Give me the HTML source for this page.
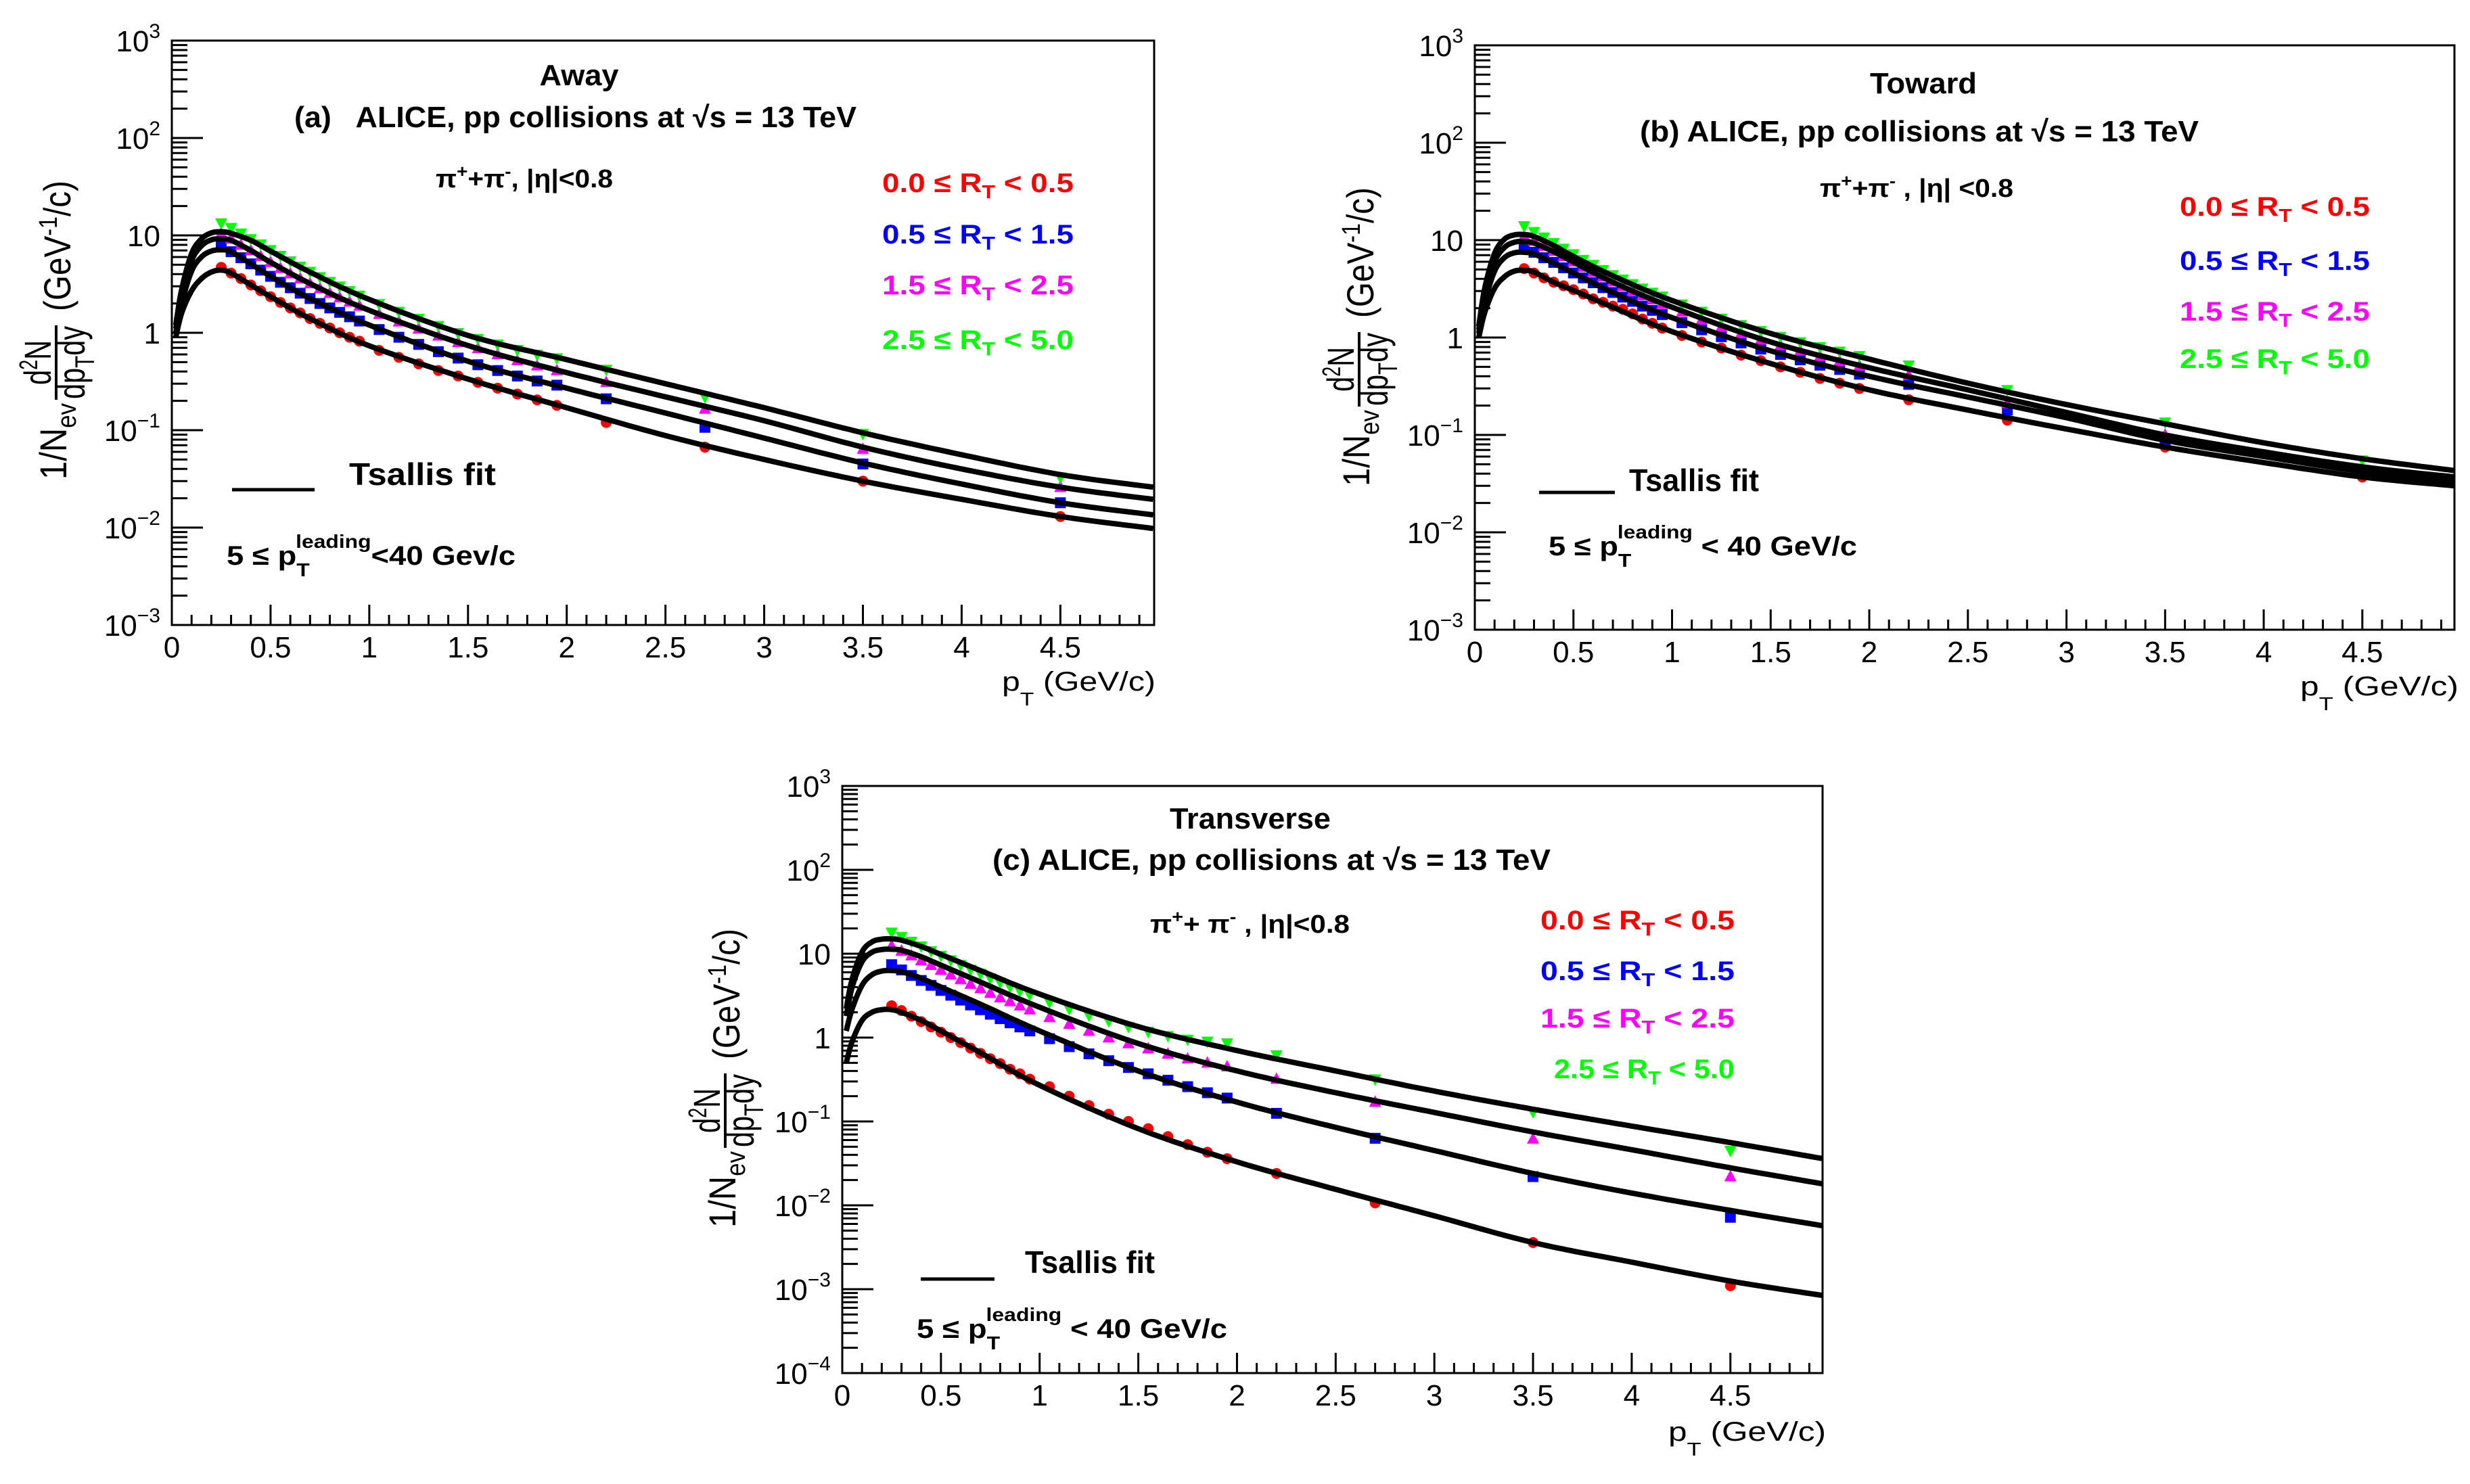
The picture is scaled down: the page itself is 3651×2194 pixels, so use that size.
<!DOCTYPE html>
<html><head><meta charset="utf-8"><title>Pion pT spectra vs R_T</title>
<style>html,body{margin:0;padding:0;background:#fff;overflow:hidden}svg{display:block;font-family:"Liberation Sans",sans-serif}</style></head>
<body>
<svg id="fig" width="3651" height="2194" viewBox="0 0 3651 2194">
<rect width="3651" height="2194" fill="#fff"/>

<!-- Panel a static text -->
<g font-weight="bold">
<text x="856" y="126" text-anchor="middle" font-size="44" textLength="117" lengthAdjust="spacingAndGlyphs">Away</text>
<text x="435" y="188" font-size="44" textLength="831" lengthAdjust="spacingAndGlyphs" xml:space="preserve">(a)   ALICE, pp collisions at √s = 13 TeV</text>
<text x="644" y="277" font-size="38" textLength="262" lengthAdjust="spacingAndGlyphs">π<tspan dy="-15" font-size="26">+</tspan><tspan dy="15">+π</tspan><tspan dy="-15" font-size="26">-</tspan><tspan dy="15">, |η|&lt;0.8</tspan></text>
<text x="1304" y="284" font-size="40" fill="#ff0000" textLength="283" lengthAdjust="spacingAndGlyphs">0.0 ≤ R<tspan dy="9" font-size="28">T</tspan><tspan dy="-9"> &lt; 0.5</tspan></text>
<text x="1304" y="360" font-size="40" fill="#0000ff" textLength="283" lengthAdjust="spacingAndGlyphs">0.5 ≤ R<tspan dy="9" font-size="28">T</tspan><tspan dy="-9"> &lt; 1.5</tspan></text>
<text x="1304" y="435" font-size="40" fill="#ff00ff" textLength="283" lengthAdjust="spacingAndGlyphs">1.5 ≤ R<tspan dy="9" font-size="28">T</tspan><tspan dy="-9"> &lt; 2.5</tspan></text>
<text x="1304" y="516" font-size="40" fill="#00ff00" textLength="283" lengthAdjust="spacingAndGlyphs">2.5 ≤ R<tspan dy="9" font-size="28">T</tspan><tspan dy="-9"> &lt; 5.0</tspan></text>
<line x1="343" y1="724" x2="465" y2="724" stroke="#000" stroke-width="5"/>
<text x="516" y="717" font-size="46" textLength="217" lengthAdjust="spacingAndGlyphs">Tsallis fit</text>
<text x="335" y="835" font-size="40" textLength="427" lengthAdjust="spacingAndGlyphs">5 ≤ p<tspan dy="17" font-size="28">T</tspan><tspan dx="-18" dy="-42" font-size="28">leading</tspan><tspan dy="25" font-size="40">&lt;40 Gev/c</tspan></text>
</g>
<text x="1481" y="1021" font-size="40" textLength="227" lengthAdjust="spacingAndGlyphs">p<tspan dy="22" font-size="28">T</tspan><tspan dy="-22"> (GeV/c)</tspan></text>
<g transform="translate(98,709) rotate(-90)">
<text x="0" y="0" font-size="56" textLength="113" lengthAdjust="spacingAndGlyphs">1/N<tspan dy="14" font-size="40">ev</tspan></text>
<text x="173" y="-23" text-anchor="middle" font-size="56" textLength="66" lengthAdjust="spacingAndGlyphs">d<tspan dy="-20" font-size="38">2</tspan><tspan dy="20">N</tspan></text>
<line x1="118" y1="-15" x2="228" y2="-15" stroke="#000" stroke-width="4"/>
<text x="173" y="27" text-anchor="middle" font-size="56" textLength="108" lengthAdjust="spacingAndGlyphs">dp<tspan dy="14" font-size="40">T</tspan><tspan dy="-14">dy</tspan></text>
<text x="249" y="6" font-size="56" textLength="193" lengthAdjust="spacingAndGlyphs">(GeV<tspan dy="-20" font-size="38">-1</tspan><tspan dy="20">/c)</tspan></text>
</g>

<!-- Panel b static text -->
<g font-weight="bold">
<text x="2843" y="138" text-anchor="middle" font-size="44" textLength="158" lengthAdjust="spacingAndGlyphs">Toward</text>
<text x="2424" y="209" font-size="44" textLength="826" lengthAdjust="spacingAndGlyphs">(b) ALICE, pp collisions at  √s = 13 TeV</text>
<text x="2690" y="291" font-size="38" textLength="286" lengthAdjust="spacingAndGlyphs">π<tspan dy="-15" font-size="26">+</tspan><tspan dy="15">+π</tspan><tspan dy="-15" font-size="26">-</tspan><tspan dy="15"> , |η| &lt;0.8</tspan></text>
<text x="3222" y="319" font-size="40" fill="#ff0000" textLength="281" lengthAdjust="spacingAndGlyphs">0.0 ≤ R<tspan dy="9" font-size="28">T</tspan><tspan dy="-9"> &lt; 0.5</tspan></text>
<text x="3222" y="399" font-size="40" fill="#0000ff" textLength="281" lengthAdjust="spacingAndGlyphs">0.5 ≤ R<tspan dy="9" font-size="28">T</tspan><tspan dy="-9"> &lt; 1.5</tspan></text>
<text x="3222" y="474" font-size="40" fill="#ff00ff" textLength="281" lengthAdjust="spacingAndGlyphs">1.5 ≤ R<tspan dy="9" font-size="28">T</tspan><tspan dy="-9"> &lt; 2.5</tspan></text>
<text x="3222" y="544" font-size="40" fill="#00ff00" textLength="281" lengthAdjust="spacingAndGlyphs">2.5 ≤ R<tspan dy="9" font-size="28">T</tspan><tspan dy="-9"> &lt; 5.0</tspan></text>
<line x1="2275" y1="728" x2="2387" y2="728" stroke="#000" stroke-width="5"/>
<text x="2408" y="726" font-size="46" textLength="192" lengthAdjust="spacingAndGlyphs">Tsallis fit</text>
<text x="2289" y="821" font-size="40" textLength="456" lengthAdjust="spacingAndGlyphs">5 ≤ p<tspan dy="17" font-size="28">T</tspan><tspan dx="-18" dy="-42" font-size="28">leading</tspan><tspan dy="25" font-size="40"> &lt; 40 GeV/c</tspan></text>
</g>
<text x="3400" y="1028" font-size="40" textLength="234" lengthAdjust="spacingAndGlyphs">p<tspan dy="22" font-size="28">T</tspan><tspan dy="-22"> (GeV/c)</tspan></text>
<g transform="translate(2024,719) rotate(-90)">
<text x="0" y="0" font-size="56" textLength="113" lengthAdjust="spacingAndGlyphs">1/N<tspan dy="14" font-size="40">ev</tspan></text>
<text x="173" y="-23" text-anchor="middle" font-size="56" textLength="66" lengthAdjust="spacingAndGlyphs">d<tspan dy="-20" font-size="38">2</tspan><tspan dy="20">N</tspan></text>
<line x1="118" y1="-15" x2="228" y2="-15" stroke="#000" stroke-width="4"/>
<text x="173" y="27" text-anchor="middle" font-size="56" textLength="108" lengthAdjust="spacingAndGlyphs">dp<tspan dy="14" font-size="40">T</tspan><tspan dy="-14">dy</tspan></text>
<text x="249" y="6" font-size="56" textLength="193" lengthAdjust="spacingAndGlyphs">(GeV<tspan dy="-20" font-size="38">-1</tspan><tspan dy="20">/c)</tspan></text>
</g>

<!-- Panel c static text -->
<g font-weight="bold">
<text x="1848" y="1225" text-anchor="middle" font-size="44" textLength="238" lengthAdjust="spacingAndGlyphs">Transverse</text>
<text x="1467" y="1286" font-size="44" textLength="825" lengthAdjust="spacingAndGlyphs">(c) ALICE, pp collisions at  √s = 13 TeV</text>
<text x="1700" y="1379" font-size="38" textLength="295" lengthAdjust="spacingAndGlyphs">π<tspan dy="-15" font-size="26">+</tspan><tspan dy="15">+ π</tspan><tspan dy="-15" font-size="26">-</tspan><tspan dy="15"> , |η|&lt;0.8</tspan></text>
<text x="2277" y="1374" font-size="40" fill="#ff0000" textLength="287" lengthAdjust="spacingAndGlyphs">0.0 ≤ R<tspan dy="9" font-size="28">T</tspan><tspan dy="-9"> &lt; 0.5</tspan></text>
<text x="2277" y="1449" font-size="40" fill="#0000ff" textLength="287" lengthAdjust="spacingAndGlyphs">0.5 ≤ R<tspan dy="9" font-size="28">T</tspan><tspan dy="-9"> &lt; 1.5</tspan></text>
<text x="2277" y="1519" font-size="40" fill="#ff00ff" textLength="287" lengthAdjust="spacingAndGlyphs">1.5 ≤ R<tspan dy="9" font-size="28">T</tspan><tspan dy="-9"> &lt; 2.5</tspan></text>
<text x="2297" y="1594" font-size="40" fill="#00ff00" textLength="267" lengthAdjust="spacingAndGlyphs">2.5 ≤ R<tspan dy="9" font-size="28">T</tspan><tspan dy="-9"> &lt; 5.0</tspan></text>
<line x1="1361" y1="1891" x2="1470" y2="1891" stroke="#000" stroke-width="5"/>
<text x="1515" y="1882" font-size="46" textLength="192" lengthAdjust="spacingAndGlyphs">Tsallis fit</text>
<text x="1355" y="1978" font-size="40" textLength="459" lengthAdjust="spacingAndGlyphs">5 ≤ p<tspan dy="17" font-size="28">T</tspan><tspan dx="-18" dy="-42" font-size="28">leading</tspan><tspan dy="25" font-size="40"> &lt; 40 GeV/c</tspan></text>
</g>
<text x="2466" y="2130" font-size="40" textLength="233" lengthAdjust="spacingAndGlyphs">p<tspan dy="22" font-size="28">T</tspan><tspan dy="-22"> (GeV/c)</tspan></text>
<g transform="translate(1087,1815) rotate(-90)">
<text x="0" y="0" font-size="56" textLength="113" lengthAdjust="spacingAndGlyphs">1/N<tspan dy="14" font-size="40">ev</tspan></text>
<text x="173" y="-23" text-anchor="middle" font-size="56" textLength="66" lengthAdjust="spacingAndGlyphs">d<tspan dy="-20" font-size="38">2</tspan><tspan dy="20">N</tspan></text>
<line x1="118" y1="-15" x2="228" y2="-15" stroke="#000" stroke-width="4"/>
<text x="173" y="27" text-anchor="middle" font-size="56" textLength="108" lengthAdjust="spacingAndGlyphs">dp<tspan dy="14" font-size="40">T</tspan><tspan dy="-14">dy</tspan></text>
<text x="249" y="6" font-size="56" textLength="193" lengthAdjust="spacingAndGlyphs">(GeV<tspan dy="-20" font-size="38">-1</tspan><tspan dy="20">/c)</tspan></text>
</g>
</svg>

<script>
// ---- data ----
const PT = [0.25,0.3,0.35,0.4,0.45,0.5,0.55,0.6,0.65,0.7,0.75,0.8,0.85,0.9,0.95,1.05,1.15,1.25,1.35,1.45,1.55,1.65,1.75,1.85,1.95,2.2,2.7,3.5,4.5];
const KNOTS = [0.02,0.05,0.1,0.15,0.2,0.25,0.3,0.4,0.5,0.7,1.0,1.5,2.0,2.5,3.0,3.5,4.0,4.5,4.97];
const X_TICK_VALUES = [0,0.5,1,1.5,2,2.5,3,3.5,4,4.5];
const X_TICK_LABELS = ["0","0.5","1","1.5","2","2.5","3","3.5","4","4.5"];
const Y_EXP_AB = [-3,-2,-1,0,1,2,3];
const Y_EXP_C = [-4,-3,-2,-1,0,1,2,3];

// panel a (Away)
const aRed   = [4.7,4.1,3.6,3.1,2.7,2.35,2.05,1.8,1.6,1.4,1.25,1.12,1.0,0.9,0.82,0.66,0.56,0.48,0.41,0.36,0.31,0.27,0.235,0.205,0.18,0.12,0.067,0.030,0.013];
const aBlue  = [7.9,6.8,5.9,5.1,4.4,3.8,3.3,2.9,2.55,2.25,2.0,1.8,1.62,1.46,1.32,1.08,0.9,0.76,0.64,0.55,0.47,0.41,0.36,0.32,0.29,0.21,0.107,0.045,0.018];
const aMag   = [10.5,9.2,8.0,7.0,6.1,5.3,4.6,4.05,3.6,3.2,2.85,2.55,2.3,2.08,1.88,1.55,1.3,1.1,0.93,0.8,0.69,0.6,0.52,0.46,0.41,0.31,0.165,0.064,0.026];
const aGreen = [13.4,12,10.5,9.2,8.1,7.1,6.2,5.45,4.8,4.25,3.75,3.35,3.0,2.7,2.42,1.98,1.65,1.4,1.18,1.0,0.87,0.76,0.67,0.6,0.55,0.42,0.22,0.092,0.033];
const aRedFit   = [0.9,1.6,2.7,3.6,4.2,4.4,4.1,3.1,2.35,1.4,0.735,0.335,0.17,0.088,0.05,0.030,0.0195,0.013,0.0098];
const aBlueFit  = [1.0,2.0,4.3,6.0,6.9,7.1,6.8,5.1,3.8,2.25,1.2,0.51,0.27,0.15,0.083,0.046,0.028,0.018,0.0135];
const aMagFit   = [1.1,2.4,5.5,7.8,9.0,9.2,8.9,7.0,5.3,3.2,1.7,0.74,0.39,0.22,0.125,0.067,0.04,0.026,0.0195];
const aGreenFit = [1.2,2.8,6.5,9.2,10.6,10.9,10.5,8.9,6.9,4.2,2.2,0.94,0.53,0.3,0.17,0.094,0.056,0.035,0.026];

// panel b (Toward)
const bRed   = [5.1,4.6,4.1,3.7,3.4,3.1,2.8,2.5,2.3,2.1,1.95,1.75,1.55,1.4,1.25,1.05,0.9,0.78,0.66,0.58,0.5,0.44,0.38,0.34,0.30,0.23,0.142,0.075,0.037];
const bBlue  = [8.5,7.5,6.6,5.9,5.2,4.6,4.1,3.65,3.25,2.9,2.6,2.35,2.1,1.9,1.72,1.42,1.2,1.02,0.88,0.76,0.67,0.59,0.52,0.47,0.42,0.33,0.18,0.086,0.041];
const bMag   = [11,9.8,8.7,7.7,6.8,6.0,5.3,4.7,4.2,3.75,3.35,3.0,2.7,2.45,2.2,1.82,1.52,1.28,1.1,0.95,0.83,0.73,0.64,0.57,0.51,0.41,0.21,0.1,0.046];
const bGreen = [14,12.2,10.7,9.4,8.2,7.2,6.3,5.6,4.95,4.4,3.95,3.55,3.2,2.9,2.65,2.2,1.85,1.57,1.35,1.17,1.02,0.9,0.8,0.72,0.65,0.52,0.29,0.135,0.055];
const bRedFit   = [1.0,1.8,3.2,4.2,4.8,4.9,4.7,3.7,3.05,2.05,1.15,0.54,0.29,0.18,0.115,0.075,0.052,0.037,0.030];
const bBlueFit  = [1.1,2.3,4.8,6.6,7.4,7.5,7.2,5.8,4.6,2.9,1.6,0.73,0.4,0.245,0.15,0.088,0.06,0.042,0.033];
const bMagFit   = [1.2,2.8,6.0,8.4,9.5,9.7,9.3,7.6,5.95,3.7,2.05,0.9,0.49,0.29,0.17,0.1,0.067,0.047,0.037];
const bGreenFit = [1.3,3.2,7.3,10.2,11.3,11.4,10.9,8.8,6.8,4.3,2.4,1.1,0.6,0.34,0.205,0.13,0.083,0.057,0.043];

// panel c (Transverse)
const cRed   = [2.4,2.1,1.8,1.55,1.34,1.16,1.0,0.87,0.75,0.65,0.56,0.49,0.42,0.37,0.32,0.26,0.2,0.155,0.122,0.1,0.082,0.066,0.053,0.043,0.036,0.024,0.0107,0.0036,0.0011];
const cBlue  = [7.4,6.4,5.5,4.8,4.2,3.65,3.2,2.8,2.45,2.15,1.9,1.68,1.5,1.34,1.2,0.97,0.78,0.64,0.53,0.44,0.37,0.31,0.26,0.22,0.19,0.125,0.063,0.022,0.0072];
const cMag   = [12.4,10.8,9.5,8.3,7.3,6.4,5.6,4.95,4.35,3.85,3.4,3.0,2.7,2.4,2.15,1.75,1.45,1.2,1.0,0.85,0.74,0.64,0.56,0.5,0.45,0.32,0.17,0.062,0.022];
const cGreen = [18,16,14,12.3,10.8,9.5,8.4,7.4,6.5,5.8,5.1,4.55,4.05,3.6,3.25,2.65,2.2,1.85,1.58,1.35,1.18,1.05,0.95,0.9,0.86,0.62,0.32,0.13,0.045];
const cRedFit   = [0.5,0.9,1.6,2.0,2.15,2.15,2.0,1.6,1.2,0.66,0.27,0.082,0.033,0.0155,0.0075,0.0036,0.0021,0.00125,0.00084];
const cBlueFit  = [1.2,2.2,4.2,5.6,6.2,6.3,6.1,5.1,4.0,2.5,1.2,0.4,0.17,0.085,0.045,0.024,0.014,0.0087,0.0057];
const cMagFit   = [1.8,4.0,8.0,10.4,11.2,11.3,11.0,9.2,7.3,4.6,2.3,0.85,0.4,0.22,0.128,0.075,0.046,0.028,0.018];
const cGreenFit = [2.2,5.0,10.5,13.8,14.9,15,14.5,12.2,9.8,6.3,3.3,1.35,0.7,0.4,0.23,0.14,0.088,0.056,0.036];

// ---- drawing ----
const NS = 'http://www.w3.org/2000/svg';
const svg = document.getElementById('fig');
function mk(tag, attrs, parent){ const el = document.createElementNS(NS, tag); for (const k in attrs) el.setAttribute(k, attrs[k]); parent.appendChild(el); return el; }

const panels = [
 {id:'a', L:254, R:1706, T:60,  B:924, xmax:4.975, ymin:-3, ymax:3, exps:Y_EXP_AB,
  series:[[aRed,aRedFit,'#ff0000','circle'],[aBlue,aBlueFit,'#0000ff','square'],[aMag,aMagFit,'#ff00ff','tri-up'],[aGreen,aGreenFit,'#00ff00','tri-down']]},
 {id:'b', L:2180, R:3628, T:67, B:931, xmax:4.967, ymin:-3, ymax:3, exps:Y_EXP_AB,
  series:[[bRed,bRedFit,'#ff0000','circle'],[bBlue,bBlueFit,'#0000ff','square'],[bMag,bMagFit,'#ff00ff','tri-up'],[bGreen,bGreenFit,'#00ff00','tri-down']]},
 {id:'c', L:1245, R:2694, T:1162, B:2030, xmax:4.967, ymin:-4, ymax:3, exps:Y_EXP_C,
  series:[[cRed,cRedFit,'#ff0000','circle'],[cBlue,cBlueFit,'#0000ff','square'],[cMag,cMagFit,'#ff00ff','tri-up'],[cGreen,cGreenFit,'#00ff00','tri-down']]}
];
const seriesNames = ['rt-0-0.5','rt-0.5-1.5','rt-1.5-2.5','rt-2.5-5.0'];

panels.forEach(p => {
  const xs = v => p.L + v / p.xmax * (p.R - p.L);
  const ys = v => p.T + (p.ymax - Math.log10(v)) / (p.ymax - p.ymin) * (p.B - p.T);
  const g = mk('g', {}, svg);
  
  

  const cp = mk('clipPath', {id:'clip-' + p.id}, g);
  mk('rect', {x:p.L, y:p.T, width:p.R - p.L, height:p.B - p.T}, cp);

  for (let i = 0; i <= Math.floor(p.xmax * 10 + 1e-6); i++) {
    const v = i / 10, major = (i % 5 === 0);
    const t = mk('line', {x1:xs(v), x2:xs(v), y1:p.B, y2:p.B - (major ? 30 : 15), stroke:'#000', 'stroke-width':3}, g);
    
    
  }
  X_TICK_VALUES.forEach((v, i) => {
    const t = mk('text', {x:xs(v), y:p.B + 48, 'text-anchor':'middle', 'font-size':44}, g);
    t.textContent = X_TICK_LABELS[i];
    
    
  });
  for (let e = p.ymin; e <= p.ymax; e++) {
    const t = mk('line', {x1:p.L, x2:p.L + 46, y1:ys(Math.pow(10, e)), y2:ys(Math.pow(10, e)), stroke:'#000', 'stroke-width':3}, g);
    
    
    if (e < p.ymax) for (let m = 2; m <= 9; m++) {
      const yy = ys(m * Math.pow(10, e));
      const mt = mk('line', {x1:p.L, x2:p.L + 23, y1:yy, y2:yy, stroke:'#000', 'stroke-width':3}, g);
      
      
    }
  }
  p.exps.forEach(e => {
    const t = mk('text', {x:p.L - 17, y:ys(Math.pow(10, e)) + 16, 'text-anchor':'end', 'font-size':44}, g);
    
    
    if (e === 0) t.textContent = '1';
    else if (e === 1) t.textContent = '10';
    else {
      const a = mk('tspan', {}, t); a.textContent = '10';
      const b = mk('tspan', {dy:-20, 'font-size':30}, t); b.textContent = (e < 0 ? '\u2212' : '') + Math.abs(e);
    }
  });

  p.series.forEach((s, si) => {
    const [vals, , col, shape] = s;
    const mg = mk('g', {fill:col, 'clip-path':`url(#clip-${p.id})`}, g);
    
    
    vals.forEach((v, i) => {
      const x = xs(PT[i]), y = ys(v);
      let el;
      if (shape === 'circle') el = mk('circle', {cx:x, cy:y, r:8}, mg);
      else if (shape === 'square') el = mk('rect', {x:x - 8, y:y - 8, width:16, height:16}, mg);
      else if (shape === 'tri-up') el = mk('polygon', {points:`${x-9},${y+7} ${x+9},${y+7} ${x},${y-10}`}, mg);
      else el = mk('polygon', {points:`${x-9},${y-7} ${x+9},${y-7} ${x},${y+10}`}, mg);
      
      
    });
  });
  p.series.forEach((s, si) => {
    const fit = s[1];
    const P = KNOTS.map((k, i) => [xs(k), ys(fit[i])]);
    let d = `M${P[0][0]},${P[0][1]}`;
    for (let i = 0; i < P.length - 1; i++) {
      const p0 = P[Math.max(i - 1, 0)], p1 = P[i], p2 = P[i + 1], p3 = P[Math.min(i + 2, P.length - 1)];
      for (let k = 1; k <= 14; k++) {
        const t = k / 14, t2 = t * t, t3 = t2 * t;
        const f = (a, b, c, dd) => 0.5 * ((2 * b) + (-a + c) * t + (2 * a - 5 * b + 4 * c - dd) * t2 + (-a + 3 * b - 3 * c + dd) * t3);
        d += ` L${f(p0[0],p1[0],p2[0],p3[0]).toFixed(1)},${f(p0[1],p1[1],p2[1],p3[1]).toFixed(1)}`;
      }
    }
    const path = mk('path', {d:d, fill:'none', stroke:'#000', 'stroke-width':8, 'clip-path':`url(#clip-${p.id})`}, g);
    
    
  });

  const fr = mk('rect', {x:p.L, y:p.T, width:p.R - p.L, height:p.B - p.T, fill:'none', stroke:'#000', 'stroke-width':3}, g);
  
  
});
</script>
</body></html>
